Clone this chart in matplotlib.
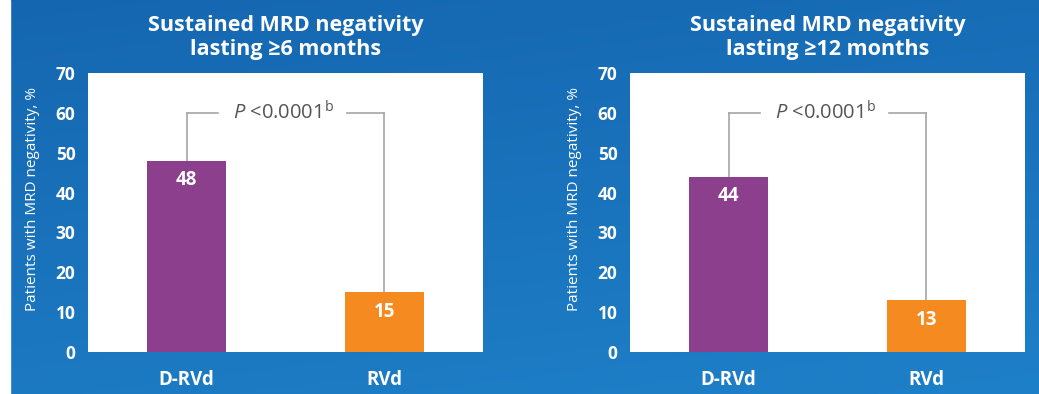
import numpy as np
import matplotlib.pyplot as plt

# Data
groups = ["D-RVd", "RVd"]
mrd_6_months = [48, 15]
mrd_12_months = [44, 13]
panel_titles = [
    "Sustained MRD negativity\nlasting \u22656 months",
    "Sustained MRD negativity\nlasting \u226512 months",
]
p_value_text = r"$\mathit{P}$ <0.0001$^{\mathrm{b}}$"
y_ticks = [0, 10, 20, 30, 40, 50, 60, 70]

bar_colors = ["#8c3f8c", "#f58a20"]

plt.rcParams["font.family"] = ["Open Sans", "DejaVu Sans"]
plt.rcParams["mathtext.fontset"] = "custom"
plt.rcParams["mathtext.rm"] = "Open Sans"
plt.rcParams["mathtext.it"] = "Open Sans:italic"


def draw_background(fig):
    bg = fig.add_axes([0, 0, 1, 1], zorder=-10)
    yy, xx = np.mgrid[0:1:200j, 0:1:200j]
    top = np.array([0x15, 0x66, 0xb0]) / 255
    bottom = np.array([0x1e, 0x80, 0xc8]) / 255
    t = np.clip(0.75 * yy + 0.25 * xx, 0, 1)[..., None]
    img = top * (1 - t) + bottom * t
    bg.imshow(img, extent=[0, 1, 0, 1], aspect="auto", origin="upper")
    # thin white strip on the left edge
    bg.axvspan(0, 10 / 1039, color="white")
    bg.set_xlim(0, 1)
    bg.set_ylim(0, 1)
    bg.axis("off")


def draw_panel(ax, values, title):
    x = np.arange(len(groups))
    ax.bar(x, values, width=0.4, color=bar_colors, zorder=2)
    ax.set_xlim(-0.5, 1.5)
    ax.set_ylim(0, 70)
    ax.set_facecolor("white")
    for s in ax.spines.values():
        s.set_visible(False)

    ax.set_yticks(y_ticks)
    ax.set_xticks(x)
    ax.set_xticklabels(groups)
    ax.tick_params(axis="y", length=0, pad=9, labelcolor="white",
                   labelsize=12.5)
    ax.tick_params(axis="x", length=0, pad=13, labelcolor="white",
                   labelsize=13.5)
    for lbl in ax.get_yticklabels() + ax.get_xticklabels():
        lbl.set_fontweight("bold")

    ax.set_ylabel("Patients with MRD negativity, %", color="white",
                  fontsize=11)
    ax.yaxis.label.set_va("center")
    ax.yaxis.set_label_coords(-56 / 395, 0.55)

    ax.set_title(title, color="white", fontsize=15.5, fontweight="bold",
                 pad=13, linespacing=1.2)

    # value labels inside the bars
    for xi, v in zip(x, values):
        ax.annotate(f"{v}", (xi, v), xytext=(0, -14),
                    textcoords="offset points", ha="center", va="center",
                    color="white", fontsize=13.5, fontweight="bold")

    # significance bracket
    top = 60
    line_kw = dict(color="#a6a6a6", lw=1.2, zorder=1)
    ax.plot([0, 0], [values[0], top], **line_kw)
    ax.plot([1, 1], [values[1], top], **line_kw)
    ax.plot([0, 0.16], [top, top], **line_kw)
    ax.plot([0.81, 1], [top, top], **line_kw)
    ax.text(0.49, top, p_value_text, ha="center", va="center",
            color="#555555", fontsize=14.5)


fig = plt.figure(figsize=(10.39, 3.94), dpi=100)
draw_background(fig)

ax_left = fig.add_axes([88 / 1039, 42 / 394, 395 / 1039, 279 / 394])
ax_right = fig.add_axes([630 / 1039, 42 / 394, 395 / 1039, 279 / 394])

draw_panel(ax_left, mrd_6_months, panel_titles[0])
draw_panel(ax_right, mrd_12_months, panel_titles[1])

fig.savefig("out.png", dpi=100)
